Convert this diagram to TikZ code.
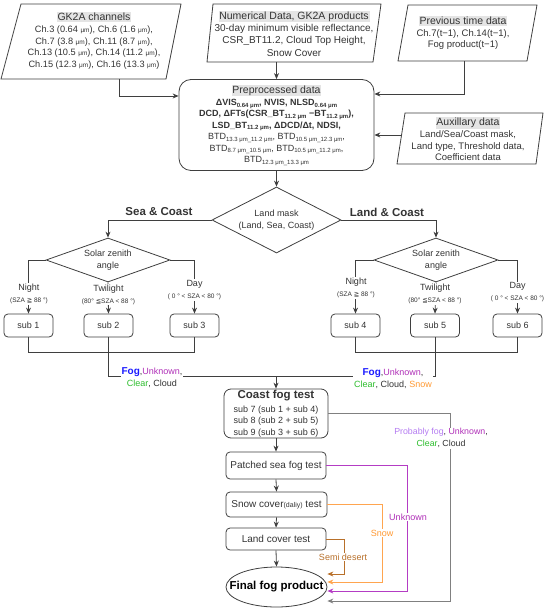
\documentclass[tikz,border=0pt]{standalone}
\usepackage{fontspec}
\setmainfont{Liberation Sans}
\newfontfamily\dvfont{DejaVu Sans}
\usetikzlibrary{shapes.geometric, arrows.meta}

\definecolor{txtgray}{HTML}{333333}
\definecolor{linegray}{HTML}{3F3F3F}
\definecolor{hdrgray}{HTML}{E4E4E4}
\definecolor{fogblue}{HTML}{1A1AFF}
\definecolor{unkpurple}{HTML}{B030B8}
\definecolor{clrgreen}{HTML}{2EBE2E}
\definecolor{snoworange}{HTML}{FF9A33}
\definecolor{probpurple}{HTML}{B57CF2}
\definecolor{semibrown}{HTML}{B8702A}
\definecolor{linepurple}{HTML}{B43CC4}
\definecolor{lineorange}{HTML}{FFA54F}

\newcommand{\fsz}[2]{\fontsize{#1}{#2}\selectfont}
\newcommand{\hlt}[1]{{\setlength{\fboxsep}{0.8pt}\colorbox{hdrgray}{#1}}}
\newcommand{\sbt}[1]{\raisebox{-0.3ex}{\fsz{6}{7}#1}}
\newcommand{\umu}{{\fsz{6.5}{7}μm}}
\newcommand{\fogt}[1]{\textcolor{fogblue}{\bfseries\fsz{10}{12}#1}}
\newcommand{\unk}[1]{\textcolor{unkpurple}{#1}}
\newcommand{\clr}[1]{\textcolor{clrgreen}{#1}}
\newcommand{\snw}[1]{\textcolor{snoworange}{#1}}
\newcommand{\prb}[1]{\textcolor{probpurple}{#1}}

\tikzset{>={Stealth[length=6pt,width=5pt]},
  conn/.style={draw=linegray, line width=0.8pt},
  txt/.style={align=center, text=txtgray, inner sep=0pt},
  prebox/.style={conn, rectangle, rounded corners=12pt, txt, minimum width=195pt, minimum height=91pt, font=\fsz{9}{11.4}},
  decision/.style={conn, diamond, txt, font=\fsz{9}{12}},
  subbox/.style={conn, rectangle, rounded corners=4pt, txt, minimum width=49pt, minimum height=23pt, font=\fsz{9}{11}},
  coastbox/.style={conn, rectangle, rounded corners=7pt, txt, minimum width=104pt, minimum height=49pt, font=\fsz{9}{11.5}},
  flowbox/.style={conn, rectangle, rounded corners=4pt, txt, minimum width=100pt, font=\fsz{10}{12}},
  endbox/.style={conn, ellipse, inner sep=0pt, minimum width=101pt, minimum height=40pt},
  lbl/.style={fill=white, txt, inner sep=1pt, font=\fsz{9}{12}},
  sidelbl/.style={txt, font=\bfseries\fsz{11.5}{13}}
}

\begin{document}
\begin{tikzpicture}[x=1pt,y=-1pt]
\useasboundingbox (0,0) rectangle (550,609);

\draw[conn] (1,79) -- (21,4) -- (181,4) -- (166,79) -- cycle;
\node[txt, font=\fsz{9.2}{11.7}] (gk) at (94,41) {\hlt{\fsz{10.5}{12}GK2A channels}\\
  Ch.3 (0.64 \umu), Ch.6 (1.6 \umu),\\ Ch.7 (3.8 \umu), Ch.11 (8.7 \umu),\\
  Ch.13 (10.5 \umu), Ch.14 (11.2 \umu),\\ Ch.15 (12.3 \umu), Ch.16 (13.3 \umu)};
\draw[conn] (207,62) -- (213,4) -- (381,4) -- (373,62) -- cycle;
\node[txt, font=\fsz{10}{12.3}] (num) at (294,33.5) {\hlt{\fsz{10.5}{12}Numerical Data, GK2A products}\\
  30-day minimum visible reflectance,\\ CSR\_BT11.2, Cloud Top Height,\\ Snow Cover};
\draw[conn] (398,61) -- (408,5) -- (537,5) -- (527,61) -- cycle;
\node[txt, font=\fsz{9.5}{11.5}] (prev) at (463,33) {\hlt{\fsz{10.5}{12}Previous time data}\\
  Ch.7(t−1), Ch.14(t−1),\\ Fog product(t−1)};
\draw[conn] (397,164) -- (405,113) -- (543,113) -- (536,164) -- cycle;
\node[txt, font=\fsz{9.5}{11.7}] (aux) at (468,139) {\hlt{\fsz{10.5}{12}Auxillary data}\\
  Land/Sea/Coast mask,\\ Land type, Threshold data,\\ Coefficient data};

\node[prebox] (pre) at (276.5,125) {\hlt{\fsz{10.5}{12}Preprocessed data}\\[1pt]
  {\bfseries ΔVIS\sbt{0.64 μm}, NVIS, NLSD\sbt{0.64 μm}}\\
  {\bfseries DCD, ΔFTs(CSR\_BT\sbt{11.2 μm} −BT\sbt{11.2 μm}),}\\
  {\bfseries LSD\_BT\sbt{11.2 μm}, ΔDCD/Δt, NDSI,}\\
  BTD\sbt{13.3 μm\_11.2 μm}, BTD\sbt{10.5 μm\_12.3 μm},\\
  BTD\sbt{8.7 μm\_10.5 μm}, BTD\sbt{10.5 μm\_11.2 μm},\\
  BTD\sbt{12.3 μm\_13.3 μm}};

\coordinate (gkout) at (119,79);
\coordinate (numout) at (276.5,62);
\coordinate (prevout) at (464,61);
\coordinate (auxout) at (401,135);
\draw[conn,->] (gkout) |- (pre.west |- 0,96);
\draw[conn,->] (numout) -- (pre.north);
\draw[conn,->] (prevout) |- (pre.east |- 0,94);
\draw[conn,->] (auxout) -- (pre.east |- 0,135);

\node[decision, aspect=2, minimum width=129pt, minimum height=66pt] (lm) at (276.5,220) {Land mask\\(Land, Sea, Coast)};
\node[decision, aspect=2.8, minimum width=124pt, minimum height=44pt] (sl) at (108,260) {Solar zenith\\angle};
\node[decision, aspect=2.8, minimum width=124pt, minimum height=44pt] (sr) at (436,260) {Solar zenith\\angle};
\draw[conn,->] (pre.south) -- (lm.north);
\draw[conn,->] (lm.west) -| (sl.north);
\draw[conn,->] (lm.east) -| (sr.north);
\node[sidelbl] (seac) at (159,212) {Sea \& Coast};
\node[sidelbl] (landc) at (387,212) {Land \& Coast};

\node[subbox] (s1) at (28.5,325.5) {sub 1};
\node[subbox] (s2) at (108.5,325.5) {sub 2};
\node[subbox] (s3) at (194.5,325.5) {sub 3};
\node[subbox] (s4) at (355.5,325.5) {sub 4};
\node[subbox] (s5) at (435,325.5) {sub 5};
\node[subbox] (s6) at (517.5,325.5) {sub 6};

\draw[conn,->] (sl.west) -| (s1.north);
\draw[conn,->] (sl.south) -- (s2.north);
\draw[conn,->] (sl.east) -| (s3.north);
\draw[conn,->] (sr.west) -| (s4.north);
\draw[conn,->] (sr.south) -- (s5.north);
\draw[conn,->] (sr.east) -| (s6.north);
\node[lbl] (n1) at (29,294) {Night\\{\fsz{6.5}{7}(SZA {\dvfont ≧} 88 °)}};
\node[lbl] (t1) at (108.5,294.5) {Twilight\\{\fsz{6.5}{7}(80° {\dvfont ≦}SZA < 88 °)}};
\node[lbl] (d1) at (194.5,290) {Day\\{\fsz{6.5}{7}( 0 ° < SZA < 80 °)}};
\node[lbl] (n2) at (356,288) {Night\\{\fsz{6.5}{7}(SZA {\dvfont ≧} 88 °)}};
\node[lbl] (t2) at (435,294) {Twilight\\{\fsz{6.5}{7}(80° {\dvfont ≦}SZA < 88 °)}};
\node[lbl] (d2) at (517.5,292.5) {Day\\{\fsz{6.5}{7}( 0 ° < SZA < 80 °)}};

\node[coastbox] (coast) at (276,413.5) {{\bfseries\fsz{11.5}{13}Coast fog test}\\[2.5pt]
  sub 7 (sub 1 + sub 4)\\ sub 8 (sub 2 + sub 5)\\ sub 9 (sub 3 + sub 6)};

\coordinate (mrg) at (276,376);
\draw[conn] (s1.south) -- ++(0,14.5) -| (s3.south);
\draw[conn] (s4.south) -- ++(0,14.5) -| (s6.south);
\draw[conn] (s2.south) |- (mrg);
\draw[conn] (s5.south) |- (mrg);
\draw[conn,->] (mrg) -- (coast.north);
\node[lbl] (outl) at (152,378) {\fogt{Fog},\unk{Unknown},\\ \clr{Clear}, Cloud};
\node[lbl] (outr) at (393,379) {\fogt{Fog},\unk{Unknown},\\ \clr{Clear}, Cloud, \snw{Snow}};

\node[flowbox, minimum height=27pt] (pat) at (276,465.5) {Patched sea fog test};
\node[flowbox, minimum width=101pt, minimum height=25pt] (snow) at (276.5,504.5) {Snow cover{\fsz{7}{8}(daliy)} test};
\node[flowbox, minimum height=22pt] (land) at (276,539) {Land cover test};
\node[endbox] (fin) at (276.5,587) {};
\node[txt, font=\bfseries\fsz{11.5}{13}, text=black] (fintxt) at (fin) {Final fog product};

\draw[conn,->] (coast.south) -- (pat.north);
\draw[conn,->] (pat.south) -- (snow.north);
\draw[conn,->] (snow.south) -- (land.north);
\draw[conn,->] (land.south) -- (fin.north);

\draw[conn, draw=semibrown, ->] (land.east) -- ++(18,0) |- (fin.east |- 0,574);
\draw[conn, draw=lineorange, ->] (snow.east) -- ++(55,0) |- (fin.east |- 0,582);
\draw[conn, draw=linepurple, ->] (pat.east) -- ++(81,0) |- (fin.east |- 0,591);
\draw[conn, draw=gray, ->] (coast.east) -- ++(122,0) |- (fin.east |- 0,601);
\node[lbl, text=semibrown] (semil) at (343,557) {Semi desert};
\node[lbl, text=snoworange] (snowl) at (382,533) {Snow};
\node[lbl, text=unkpurple] (unkl) at (408,517) {Unknown};
\node[lbl, font=\fsz{8.8}{11.5}] (probl) at (441,438) {\prb{Probably fog}, \unk{Unknown},\\ \clr{Clear}, Cloud};
\end{tikzpicture}
\end{document}
